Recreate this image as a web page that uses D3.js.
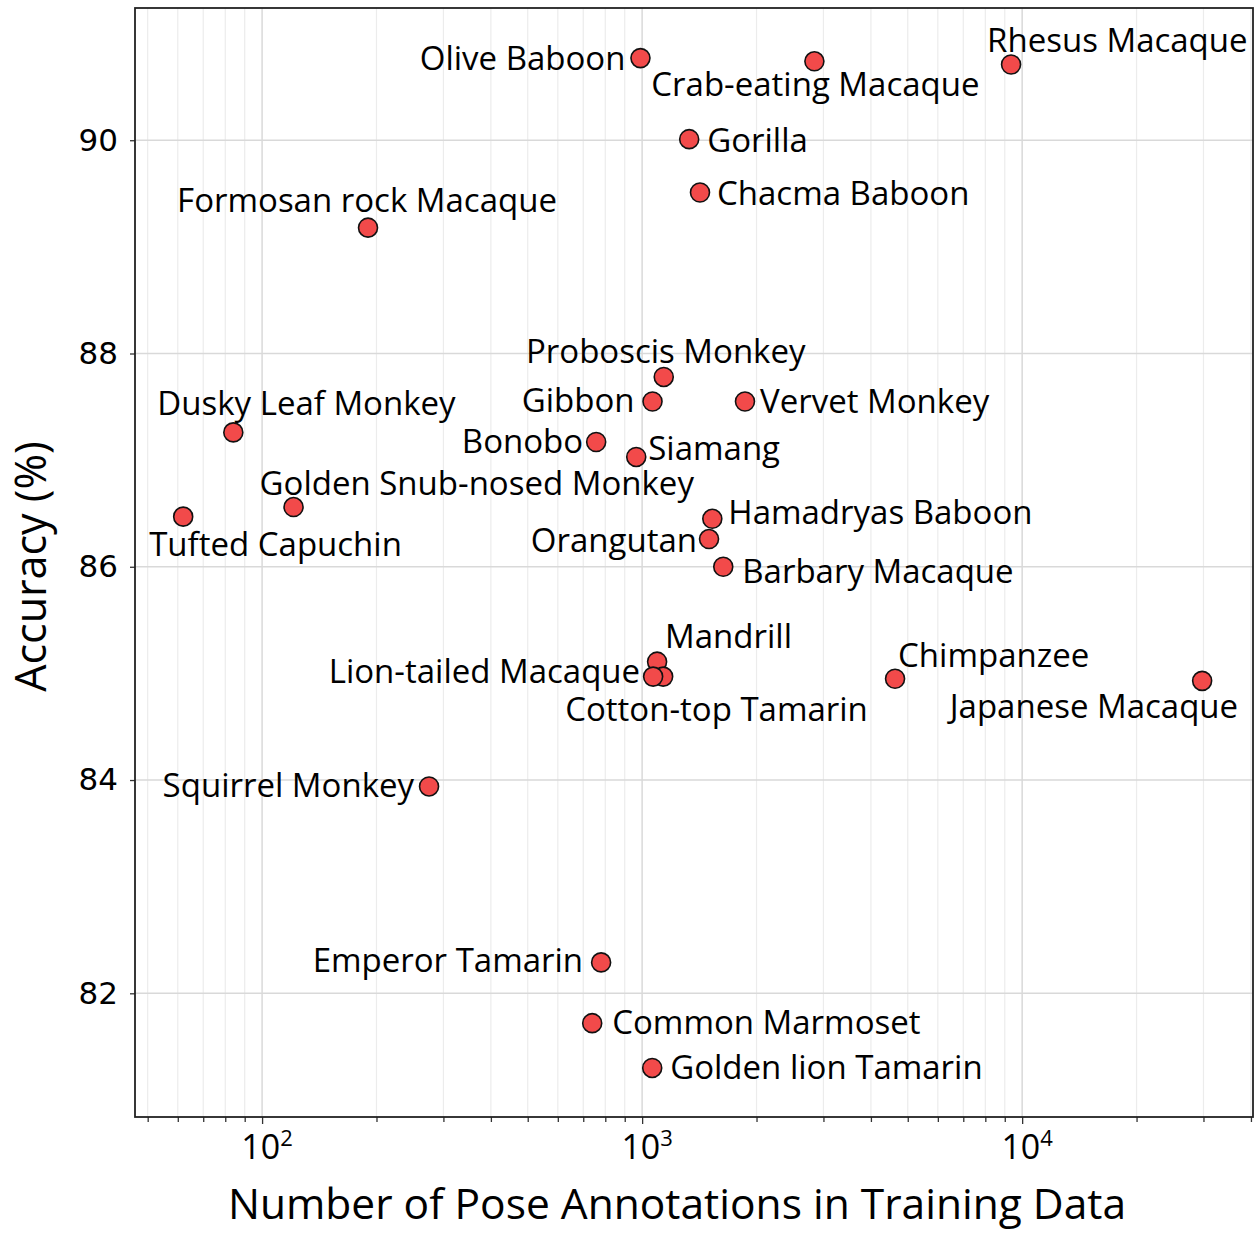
<!DOCTYPE html>
<meta charset="utf-8">
<style>
  body { margin: 0; background: #fff; }
  text { font-family: "Open Sans", sans-serif; fill: #000; }
</style>
<svg width="1260" height="1236"></svg>
<script src="https://d3js.org/d3.v7.min.js"></script>
<script>
  // values (draw order matters for the overlapping trio)
  const species = [
    'Olive Baboon', 'Crab-eating Macaque', 'Rhesus Macaque', 'Gorilla', 'Chacma Baboon',
    'Formosan rock Macaque', 'Proboscis Monkey', 'Gibbon', 'Vervet Monkey', 'Dusky Leaf Monkey',
    'Bonobo', 'Siamang', 'Golden Snub-nosed Monkey', 'Tufted Capuchin', 'Hamadryas Baboon',
    'Orangutan', 'Barbary Macaque', 'Mandrill', 'Cotton-top Tamarin', 'Lion-tailed Macaque',
    'Chimpanzee', 'Japanese Macaque', 'Squirrel Monkey', 'Emperor Tamarin', 'Common Marmoset',
    'Golden lion Tamarin'
  ]
  const annotations = [
    990, 2840, 9350, 1330, 1420,
    190, 1140, 1065, 1865, 84,
    757, 965, 121, 62, 1530,
    1500, 1635, 1095, 1136, 1069,
    4630, 29760, 275, 780, 739,
    1063
  ]
  const accuracy = [
    90.77, 90.74, 90.71, 90.01, 89.51,
    89.18, 87.78, 87.55, 87.55, 87.26,
    87.17, 87.03, 86.56, 86.47, 86.45,
    86.26, 86.00, 85.11, 84.97, 84.97,
    84.95, 84.93, 83.94, 82.29, 81.72,
    81.30
  ]
  const yTicks = [82, 84, 86, 88, 90]
  const xMajor = [100, 1000, 10000]

  // label placement relative to its point: [dx, dy, anchor]
  const labelPos = {
    'Olive Baboon': [-15, 0, 'end'],
    'Crab-eating Macaque': [1, 23, 'middle'],
    'Rhesus Macaque': [-24, -24, 'start'],
    'Gorilla': [18, 1, 'start'],
    'Chacma Baboon': [17, 1, 'start'],
    'Formosan rock Macaque': [-1, -27, 'middle'],
    'Proboscis Monkey': [2, -26, 'middle'],
    'Gibbon': [-18, -1, 'end'],
    'Vervet Monkey': [15, 0, 'start'],
    'Dusky Leaf Monkey': [-76, -29, 'start'],
    'Bonobo': [-13, -1, 'end'],
    'Siamang': [12, -8, 'start'],
    'Golden Snub-nosed Monkey': [-34, -24, 'start'],
    'Tufted Capuchin': [-34, 28, 'start'],
    'Hamadryas Baboon': [16, -6, 'start'],
    'Orangutan': [-12, 1, 'end'],
    'Barbary Macaque': [19, 5, 'start'],
    'Mandrill': [8, -25, 'start'],
    'Cotton-top Tamarin': [-98, 33, 'start'],
    'Lion-tailed Macaque': [-13, -5, 'end'],
    'Chimpanzee': [3, -23, 'start'],
    'Japanese Macaque': [36, 26, 'end'],
    'Squirrel Monkey': [-15, -1, 'end'],
    'Emperor Tamarin': [-18, -2, 'end'],
    'Common Marmoset': [20, -1, 'start'],
    'Golden lion Tamarin': [18, 0, 'start']
  }

  const width = 1260
  const height = 1236
  const margin = { top: 8, right: 7, bottom: 119, left: 135 }

  const svg = d3.select('svg')

  const x = d3.scaleLog()
    .domain([46.3, 40500])
    .range([margin.left, width - margin.right])

  const y = d3.scaleLinear()
    .domain([80.84, 91.24])
    .range([height - margin.bottom, margin.top])

  // minor x positions (2..9 times each decade) inside the domain
  const xMinor = []
  for (let p = 1; p <= 4; p++) {
    for (let m = 2; m <= 9; m++) {
      const v = m * Math.pow(10, p)
      if (v > x.domain()[0] && v < x.domain()[1]) xMinor.push(v)
    }
  }

  // grid
  const grid = svg.append('g')
  grid.selectAll('.minor')
    .data(xMinor)
    .enter().append('line')
    .attr('x1', d => x(d)).attr('x2', d => x(d))
    .attr('y1', margin.top).attr('y2', height - margin.bottom)
    .attr('stroke', '#ececec')
    .attr('stroke-width', 1.2)
  grid.selectAll('.xmajor')
    .data(xMajor)
    .enter().append('line')
    .attr('x1', d => x(d)).attr('x2', d => x(d))
    .attr('y1', margin.top).attr('y2', height - margin.bottom)
    .attr('stroke', '#d9d9d9')
    .attr('stroke-width', 1.5)
  grid.selectAll('.ymajor')
    .data(yTicks)
    .enter().append('line')
    .attr('x1', margin.left).attr('x2', width - margin.right)
    .attr('y1', d => y(d)).attr('y2', d => y(d))
    .attr('stroke', '#d9d9d9')
    .attr('stroke-width', 1.5)

  // x axis ticks
  const xAxisG = svg.append('g')
    .attr('transform', `translate(0,${height - margin.bottom})`)
  xAxisG.call(d3.axisBottom(x).tickValues(xMinor).tickSize(5).tickFormat(''))
  xAxisG.append('g')
    .call(d3.axisBottom(x).tickValues(xMajor).tickSize(7).tickFormat(''))
  xAxisG.selectAll('.domain').remove()
  xAxisG.selectAll('line').attr('stroke', '#333').attr('stroke-width', 1.3)

  const xLabels = svg.append('g')
    .selectAll('text')
    .data(xMajor)
    .enter().append('text')
    .attr('x', d => x(d) + 5)
    .attr('y', height - margin.bottom + 42)
    .attr('text-anchor', 'middle')
    .attr('font-size', 34)
  xLabels.append('tspan').text('10')
  xLabels.append('tspan')
    .attr('dy', -13)
    .attr('font-size', 22)
    .text(d => Math.round(Math.log10(d)))

  // y axis ticks
  const yAxisG = svg.append('g')
    .attr('transform', `translate(${margin.left},0)`)
    .call(d3.axisLeft(y).tickValues(yTicks).tickSize(5).tickPadding(12))
  yAxisG.select('.domain').remove()
  yAxisG.selectAll('line').attr('stroke', '#333').attr('stroke-width', 1.3)
  yAxisG.selectAll('text')
    .style('font-family', '"DejaVu Sans", sans-serif')
    .attr('font-size', 31)
    .attr('fill', '#000')

  // frame
  svg.append('rect')
    .attr('x', margin.left)
    .attr('y', margin.top)
    .attr('width', width - margin.left - margin.right)
    .attr('height', height - margin.top - margin.bottom)
    .attr('fill', 'none')
    .attr('stroke', '#222')
    .attr('stroke-width', 1.8)

  // points
  const points = species.map((s, i) => ({ name: s, n: annotations[i], acc: accuracy[i] }))

  svg.append('g')
    .selectAll('circle')
    .data(points)
    .enter().append('circle')
    .attr('cx', d => x(d.n))
    .attr('cy', d => y(d.acc))
    .attr('r', 9.5)
    .attr('fill', '#f24a4a')
    .attr('stroke', '#111')
    .attr('stroke-width', 1.6)

  svg.append('g')
    .selectAll('text')
    .data(points)
    .enter().append('text')
    .attr('x', d => x(d.n) + labelPos[d.name][0])
    .attr('y', d => y(d.acc) + labelPos[d.name][1])
    .attr('dy', '0.35em')
    .attr('text-anchor', d => labelPos[d.name][2])
    .attr('font-size', 33)
    .text(d => d.name)

  // axis titles
  svg.append('text')
    .attr('x', 677)
    .attr('y', 1219)
    .attr('text-anchor', 'middle')
    .attr('font-size', 42.5)
    .text('Number of Pose Annotations in Training Data')

  svg.append('text')
    .attr('transform', `translate(46,${(margin.top + height - margin.bottom) / 2 + 4}) rotate(-90)`)
    .attr('text-anchor', 'middle')
    .attr('font-size', 43)
    .text('Accuracy (%)')
</script>
